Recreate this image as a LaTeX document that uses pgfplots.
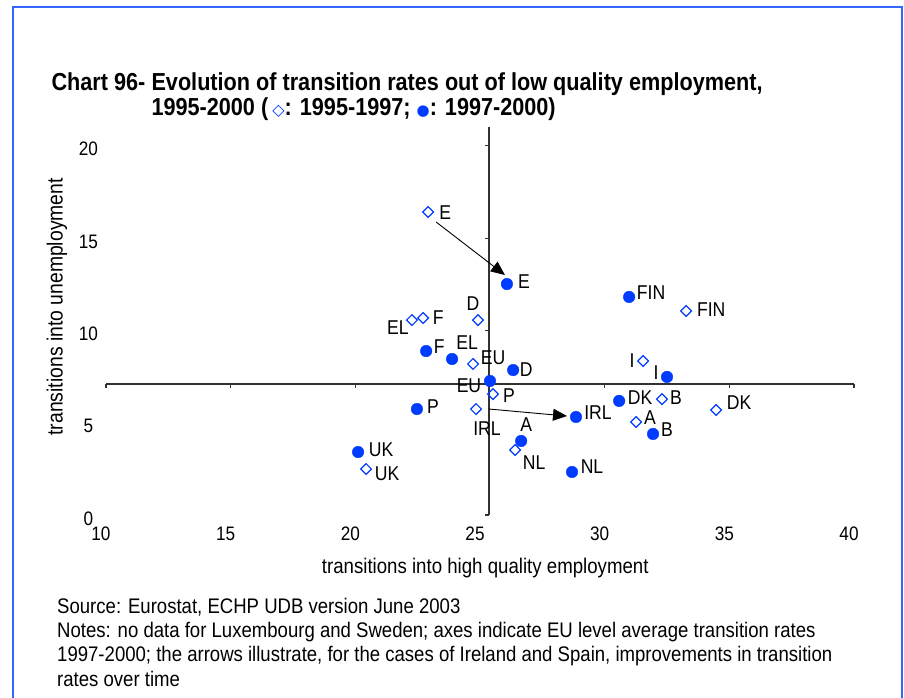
\documentclass[border=0pt]{standalone}
\usepackage{pgfplots}
\pgfplotsset{compat=1.18}
\usepackage{pgfplotstable}
\usepackage{fontspec}
\setmainfont{Liberation Sans}[FakeStretch=0.88]
\newfontfamily\symfont{DejaVu Sans}
\usetikzlibrary{arrows.meta}
\definecolor{ptblue}{RGB}{0,60,255}
\definecolor{framecol}{RGB}{51,102,255}
\definecolor{axgray}{RGB}{50,50,50}

% 1995-1997
\pgfplotstableread{
x y lbl dx dy
22.92 16.41 E 17 -1
33.27 11.05 FIN 25 1
24.92 10.56 D -5 16
22.72 10.67 F 15 0
22.27 10.56 EL -14 -8
24.72 8.18 EU 20 6
31.54 8.34 I -11 0
25.52 6.55 P 16 -2
32.30 6.28 B 14 1
34.47 5.69 DK 23 7
24.84 5.74 IRL 11 -20
31.26 5.04 A 14 4
26.41 3.52 NL 19 -13
20.43 2.49 UK 21 -5
}\early

% 1997-2000
\pgfplotstableread{
x y lbl dx dy
26.08 12.51 E 17 2
30.98 11.81 FIN 22 4
22.84 8.88 F 13 4
23.88 8.45 EL 15 16
26.33 7.85 D 13 0
25.40 7.26 EU -21 -5
32.50 7.48 I -11 4
22.47 5.74 P 16 2
30.58 6.18 DK 21 3
28.85 5.31 IRL 22 4
31.94 4.39 B 14 4
26.65 4.01 A 5 16
28.69 2.33 NL 20 5
20.11 3.41 UK 23 2
}\late

\begin{document}
\begin{tikzpicture}[x=1pt,y=1pt]
\useasboundingbox (0,0) rectangle (904,697);
\draw[framecol, line width=2pt] (13,-10) rectangle (902,690);

% title
\node[anchor=base west, font=\fontsize{24.6}{26}\selectfont\bfseries] at (48,606) {Chart 96-};
\node[anchor=base west, font=\fontsize{24.6}{26}\selectfont\bfseries] at (148,606)
  {Evolution of transition rates out of low quality employment,};
\node[anchor=base west, font=\fontsize{24.6}{26}\selectfont\bfseries] at (148,581)
  {1995-2000 (\,\textcolor{ptblue}{\symfont\fontsize{16}{14}\selectfont ◇}: 1995-1997;\ \textcolor{ptblue}{\symfont\fontsize{15}{14}\selectfont ●}: 1997-2000)};

\begin{axis}[
  at={(106pt,182pt)}, anchor=south west,
  scale only axis, width=748pt, height=387.7pt,
  xmin=10, xmax=40, ymin=0, ymax=21,
  xtick={10,15,...,40}, ytick={0,5,...,20},
  axis line style={draw=none}, major tick length=0pt, tick style={draw=none},
  ticklabel style={font=\fontsize{19.5}{20}\selectfont},
  /pgf/number format/assume math mode=true,
  xticklabel style={anchor=center, yshift=-19pt, xshift=-5pt},
  yticklabel style={anchor=center, xshift=-17.5pt, yshift=-3.5pt},
  xlabel={transitions into high quality employment},
  ylabel={transitions into unemployment},
  xlabel style={font=\fontsize{21.2}{22}\selectfont,
    at={(axis description cs:0.507,-0.1367)}, anchor=center},
  ylabel style={font=\fontsize{22}{22}\selectfont,
    at={(axis description cs:-0.0655,0.537)}, anchor=center},
  clip=false,
]
% EU average lines (1997-2000) with their small ticks
\draw[axgray, line width=1.3pt] (axis cs:10,7.10) -- (axis cs:40,7.10);
\draw[axgray, line width=1.3pt] (axis cs:25.36,0) -- (axis cs:25.36,21);
\pgfplotsinvokeforeach{10,15,20,30,35,40}{
  \draw[axgray, line width=1.1pt] (axis cs:#1,7.10) -- ++(0pt,-4pt);
}
\pgfplotsinvokeforeach{0,5,...,20}{
  \draw[axgray, line width=1.1pt] (axis cs:25.36,#1) -- ++(-4pt,0pt);
}

\addplot[only marks, mark=*, mark size=5.8pt,
  mark options={draw=ptblue, fill=ptblue},
  nodes near coords, point meta=explicit symbolic,
  visualization depends on={\thisrow{dx} \as \lbldx},
  visualization depends on={\thisrow{dy} \as \lbldy},
  nodes near coords style={anchor=center, xshift=\lbldx pt, yshift=\lbldy pt,
    text=black, inner sep=0pt, font=\fontsize{20}{20}\selectfont}]
  table[x=x, y=y, meta=lbl] {\late};

\addplot[only marks, mark=square, mark size=3.8pt,
  mark options={rotate=45, draw=ptblue, fill=white, line width=1.2pt},
  nodes near coords, point meta=explicit symbolic,
  visualization depends on={\thisrow{dx} \as \lbldx},
  visualization depends on={\thisrow{dy} \as \lbldy},
  nodes near coords style={anchor=center, xshift=\lbldx pt, yshift=\lbldy pt,
    text=black, inner sep=0pt, font=\fontsize{20}{20}\selectfont}]
  table[x=x, y=y, meta=lbl] {\early};

% arrows: Spain and Ireland
\draw[-{Triangle[length=14pt,width=12pt]}, line width=0.9pt]
  (axis cs:23.24,15.87) -- (axis cs:26.00,13.00);
\draw[-{Triangle[length=14pt,width=12pt]}, line width=0.9pt]
  (axis cs:25.36,5.74) -- (axis cs:28.49,5.36);
\end{axis}

% notes
\begin{scope}[every node/.style={anchor=base west, font=\fontsize{21.1}{24}\selectfont, inner sep=0pt}]
\node at (57,84) {Source: Eurostat, ECHP UDB version June 2003};
\node at (57,60) {Notes: no data for Luxembourg and Sweden; axes indicate EU level average transition rates};
\node at (57,36) {1997-2000; the arrows illustrate, for the cases of Ireland and Spain, improvements in transition};
\node at (57,11) {rates over time};
\end{scope}
\end{tikzpicture}
\end{document}
